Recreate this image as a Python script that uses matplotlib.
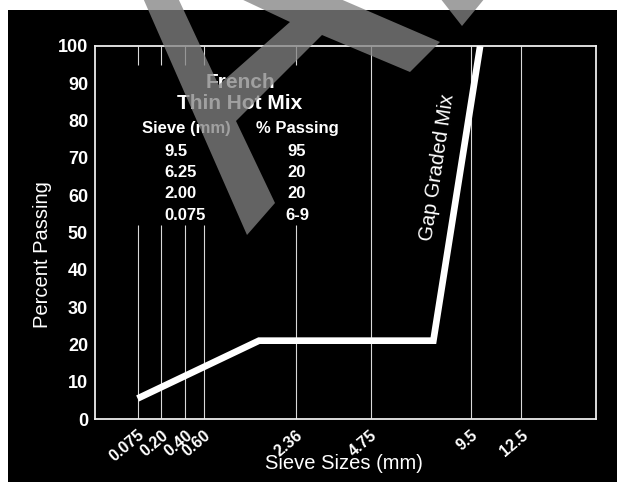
import numpy as np
import matplotlib.pyplot as plt
from matplotlib.patches import Polygon, Rectangle

plt.rcParams['font.family'] = ['Liberation Sans', 'DejaVu Sans']

## DATA
# gap graded mix curve
sieve_mm = [0.075, 1.5, 7.5, 10.0]
passing = [5.5, 21, 21, 100]

# sieve sizes marked on the x axis
tick_sizes = [0.075, 0.20, 0.40, 0.60, 2.36, 4.75, 9.5, 12.5]
tick_labels = ["0.075", "0.20", "0.40", "0.60", "2.36", "4.75", "9.5", "12.5"]
short_grid = [0.075, 0.20, 0.40, 0.60, 2.36]   # grid lines broken by the table
long_grid = [4.75, 9.5, 12.5]
y_ticks = list(range(0, 101, 10))

# French thin hot mix spec table
spec_sieve = ["9.5", "6.25", "2.00", "0.075"]
spec_pass = ["95", "20", "20", "6-9"]

W, H = 617, 482


def px(x, y):
    # pixel position (from top left) -> figure fraction
    return x / W, 1 - y / H


fig = plt.figure(figsize=(W / 100, H / 100), dpi=100)
fig.patch.set_facecolor('white')
# black scanned page
fig.add_artist(Rectangle(px(8, 482), 1, 1 - 10 / H, transform=fig.transFigure,
                         facecolor='black', edgecolor='none', zorder=-1))

ax = fig.add_axes([95 / W, 1 - 419 / H, 500.5 / W, 373 / H])
ax.set_facecolor('black')

# 0.45 power gradation chart
fwd = lambda x: np.power(np.clip(x, 0, None), 0.45)
inv = lambda x: np.power(np.clip(x, 0, None), 1 / 0.45)
ax.set_xscale('function', functions=(fwd, inv))
ax.set_xlim(0, 17.9)
ax.set_ylim(0, 100)

gc = '#d8d8d8'
ax.vlines(short_grid, 0, 52, color=gc, lw=0.8)
ax.vlines(short_grid, 95, 100, color=gc, lw=0.8)
ax.vlines(long_grid, 0, 100, color=gc, lw=0.8)

ax.plot(sieve_mm, passing, color='white', lw=4.8, solid_capstyle='butt',
        solid_joinstyle='miter', zorder=3)

for s in ax.spines.values():
    s.set_color('#eeeeee')
    s.set_linewidth(1.3)

ax.set_yticks(y_ticks)
ax.tick_params(axis='y', length=0, pad=5, labelsize=13, labelcolor='white')
for lbl in ax.get_yticklabels():
    lbl.set_fontweight('bold')
ax.set_xticks(tick_sizes, tick_labels, rotation=40, ha='right', rotation_mode='anchor')
ax.tick_params(axis='x', length=0, pad=6, labelsize=11.5, labelcolor='white')
for lbl in ax.get_xticklabels():
    lbl.set_fontweight('bold')
ax.minorticks_off()

ax.set_xlabel('Sieve Sizes (mm)', color='white', fontsize=14.5)
ax.xaxis.set_label_coords(0.4965, -0.095)
ax.set_ylabel('Percent Passing', color='white', fontsize=14.5)
ax.yaxis.set_label_coords(-0.085, 0.441)

# spec table
fig.text(*px(240, 83), 'French', color='white', fontsize=15, fontweight='bold', ha='center', va='center')
fig.text(*px(240, 103.5), 'Thin Hot Mix', color='white', fontsize=15, fontweight='bold', ha='center', va='center')
fig.text(*px(186, 128), 'Sieve (mm)', color='white', fontsize=12, fontweight='bold', ha='center', va='center')
fig.text(*px(297.5, 128), '% Passing', color='white', fontsize=12, fontweight='bold', ha='center', va='center')
row_y = [151, 172.5, 194, 216]
for yy, a, b in zip(row_y, spec_sieve, spec_pass):
    fig.text(*px(164, yy), a, color='white', fontsize=12, fontweight='bold', ha='left', va='center')
    fig.text(*px(297, yy), b, color='white', fontsize=12, fontweight='bold', ha='center', va='center')

fig.text(*px(437, 167), 'Gap Graded Mix', color='white', fontsize=14.5, rotation=81.6,
         ha='center', va='center', rotation_mode='anchor')

# gray stripes laid over the scan
stripe = [(143, -2), (178, -2), (218.6, 85), (290, 22), (239, -2), (338, -2), (440, 42),
          (410, 72), (322, 35), (236, 121), (275, 203), (247, 235)]
corner = [(440, -2), (485, -2), (462, 26)]
for pts in (stripe, corner):
    fig.add_artist(Polygon([px(x, y) for x, y in pts], closed=True, transform=fig.transFigure,
                           facecolor='#838383', edgecolor='none', alpha=0.76, zorder=10))

fig.savefig('out.png', dpi=100, facecolor=fig.get_facecolor())
